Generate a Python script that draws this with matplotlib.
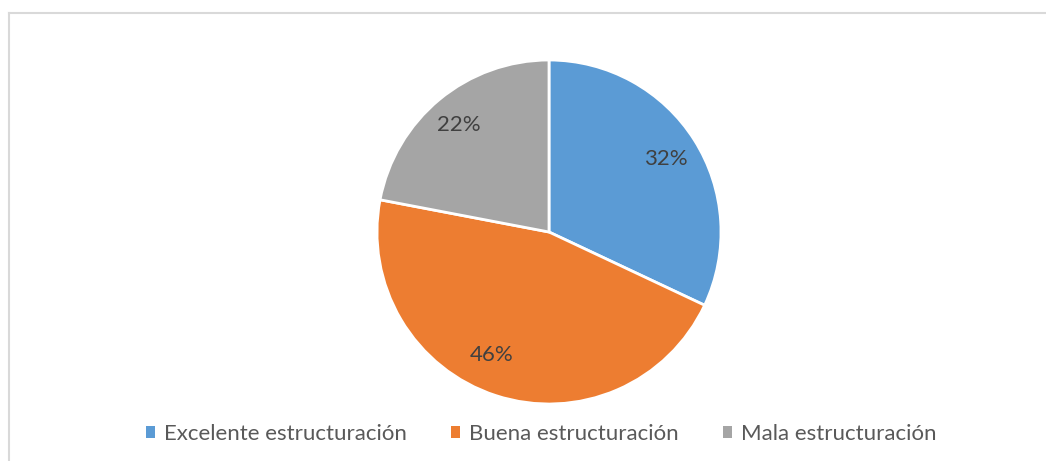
import matplotlib
matplotlib.use("Agg")
import matplotlib.pyplot as plt
from matplotlib.lines import Line2D
from matplotlib.patches import Patch

categorias = ["Excelente estructuración", "Buena estructuración", "Mala estructuración"]
valores = [32, 46, 22]
colores = ["#5B9BD5", "#ED7D31", "#A5A5A5"]

plt.rcParams['font.family'] = ['Lato', 'DejaVu Sans']

W, H = 1046, 461
fig = plt.figure(figsize=(W / 100, H / 100), dpi=100)

# marco gris (solo se ve arriba y a la izquierda)
fig.add_artist(Line2D([8.5 / W, 8.5 / W], [0, 1 - 13 / H], color="#D9D9D9", lw=1.5))
fig.add_artist(Line2D([8.5 / W, 1], [1 - 13 / H, 1 - 13 / H], color="#D9D9D9", lw=1.5))

cx, cy, r = 549, H - 232, 172
ax = fig.add_axes([(cx - r) / W, (cy - r) / H, 2 * r / W, 2 * r / H])
wedges, textos, autotextos = ax.pie(
    valores, colors=colores, startangle=90, counterclock=False,
    autopct="%d%%", pctdistance=0.8,
    wedgeprops=dict(edgecolor="white", linewidth=2),
    textprops=dict(fontsize=16, color="#404040"))
# posiciones de las etiquetas como en el original (ajuste "mejor posición")
pos_etiquetas = [(0.677, 0.427), (-0.334, -0.718), (-0.526, 0.622)]
for t, p in zip(autotextos, pos_etiquetas):
    t.set_position(p)
ax.set_xlim(-1, 1)
ax.set_ylim(-1, 1)
ax.set_aspect("equal")
ax.axis("off")

handles = [Patch(facecolor=c, edgecolor="none") for c in colores]
fig.legend(handles, categorias, loc="center", bbox_to_anchor=(541 / W, 1 - 434 / H),
           ncol=3, frameon=False, fontsize=16, handlelength=0.4, handleheight=0.4,
           handletextpad=0.4, columnspacing=2.0, labelcolor="#595959")

fig.savefig("out.png", dpi=100)
